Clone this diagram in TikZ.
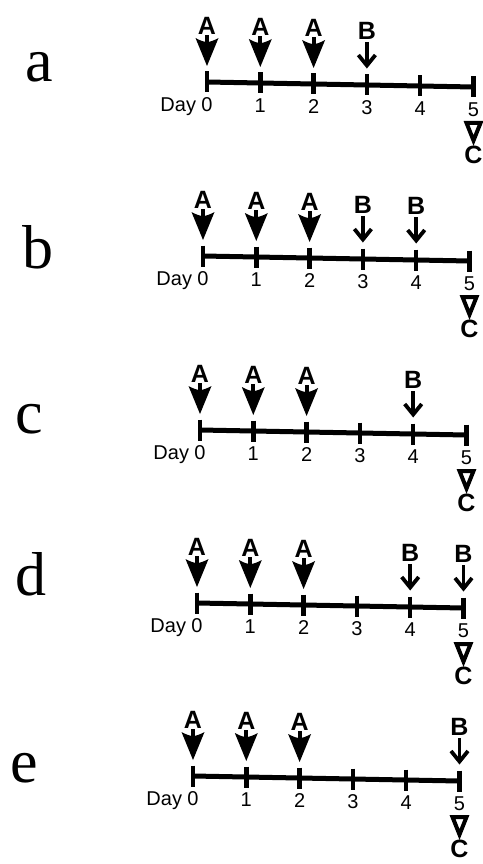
\documentclass[tikz,border=0pt]{standalone}
\usepackage{fontspec}
\setmainfont{Liberation Serif}
\setsansfont{Liberation Sans}
\tikzset{
  daylbl/.style={font=\fontsize{20}{20}\selectfont\sffamily, inner sep=0pt},
  agent/.style={font=\fontsize{25}{25}\selectfont\sffamily\bfseries, inner sep=0pt},
  panellbl/.style={font=\fontsize{62}{62}\selectfont, inner sep=0pt, anchor=base west},
  axisline/.style={line width=5pt},
  tickline/.style={line width=4.5pt},
  barrow/.style={line width=3.8pt, line join=miter},
  tri/.style={line width=4pt, line join=miter},
}
\newcommand\drawA[2]{%
  \begin{scope}[shift={(#1)}]
    \fill (0,16) -- (-11.5,44) .. controls (-6,41) and (-2.5,40) .. (0,40)
          .. controls (2.5,40) and (6,41) .. (11.5,44) -- cycle;
    \fill (-2,38) rectangle (2,47);
    \node[agent] (#2) at (0,56) {A};
  \end{scope}}
\newcommand\drawB[2]{%
  \begin{scope}[shift={(#1)}]
    \draw[barrow] (0,43) -- (0,21);
    \draw[barrow] (-8.5,30) -- (0,19.5) -- (8.5,30);
    \node[agent] (#2) at (0,54) {B};
  \end{scope}}
\newcommand\drawC[2]{%
  \begin{scope}[shift={(#1)}]
    \draw[tri] (-7,-36) -- (7,-36) -- (0,-53.5) -- cycle;
    \node[agent] (#2) at (0,-67.5) {C};
  \end{scope}}
\newcommand\tlpanel[6]{%
  \node[panellbl] (#1lbl) at (#5,-#6) {#2};
  \draw[axisline] (#3,-#4) -- ({#3+266.5},{-#4-5});
  \foreach \i in {0,...,5}{
    \pgfmathsetmacro\xx{#3+53.3*\i}
    \pgfmathsetmacro\yy{-#4-\i}
    \coordinate (#1t\i) at (\xx,\yy);
    \draw[tickline] (\xx,\yy+10.5) -- (\xx,\yy-10.5);
    \node[daylbl] (#1d\i) at (\xx,\yy-23) {\i};
  }
  \node[daylbl, anchor=base east] (#1day) at ([xshift=-5pt]#1d0.base west) {Day};
  \drawA{#1t0}{#1a0}
  \drawA{#1t1}{#1a1}
  \drawA{#1t2}{#1a2}
  \drawC{#1t5}{#1c}
}
\begin{document}
\begin{tikzpicture}[x=1pt,y=1pt]
  \useasboundingbox (0,0) rectangle (482,-864);
  \tlpanel{pa}{a}{207}{82}{25}{82}
  \drawB{pat3}{pab3}
  \tlpanel{pb}{b}{203}{256}{22}{268}
  \drawB{pbt3}{pbb3}
  \drawB{pbt4}{pbb4}
  \tlpanel{pc}{c}{200}{430}{15}{433}
  \drawB{pct4}{pcb4}
  \tlpanel{pd}{d}{197}{603}{15}{595}
  \drawB{pdt4}{pdb4}
  \drawB{pdt5}{pdb5}
  \tlpanel{pe}{e}{193}{776}{10}{782}
  \drawB{pet5}{peb5}
\end{tikzpicture}
\end{document}
